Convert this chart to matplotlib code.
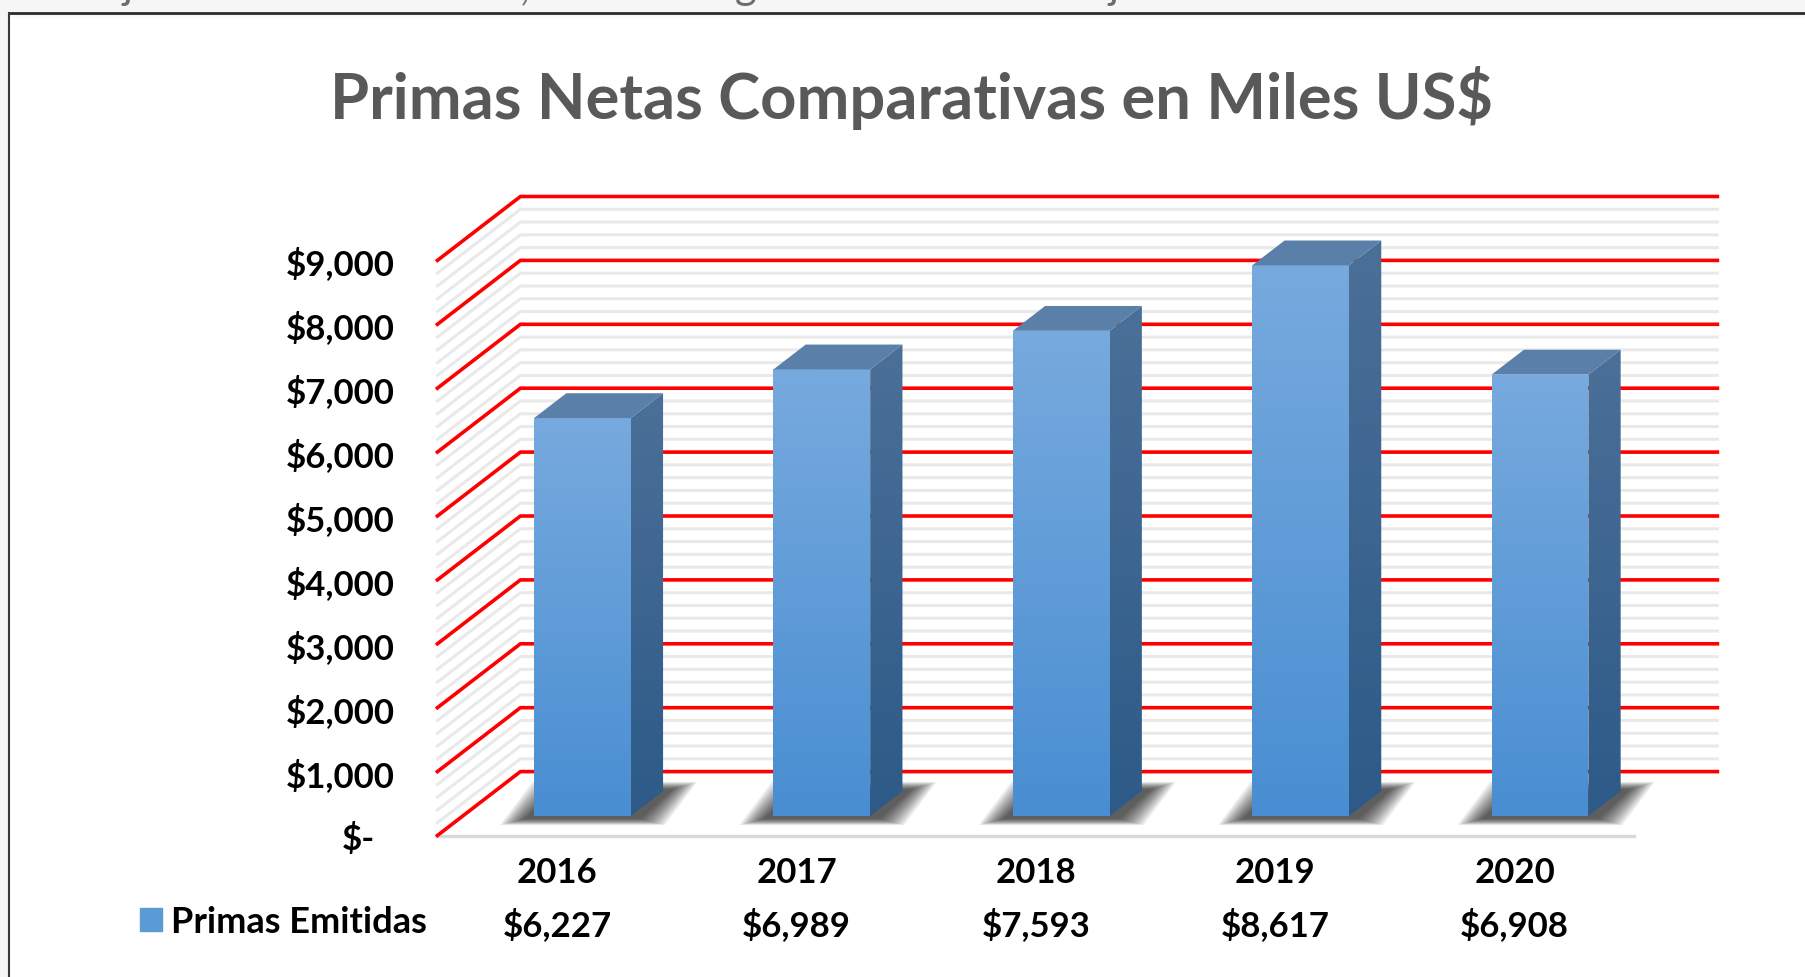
import numpy as np
import matplotlib.pyplot as plt
from matplotlib.patches import Polygon, Patch, Rectangle
from matplotlib.lines import Line2D
from matplotlib.colors import LinearSegmentedColormap

years = ['2016', '2017', '2018', '2019', '2020']
primas_emitidas = [6227, 6989, 7593, 8617, 6908]
y_ticks = [0, 1000, 2000, 3000, 4000, 5000, 6000, 7000, 8000, 9000]
titulo = 'Primas Netas Comparativas en Miles US$'
serie = 'Primas Emitidas'

W, H = 1805, 978
FONT = 'Lato'

# layout of the pseudo 3d box, in pixels from the top-left corner
X0_PX, Y0_PX = 437.4, 836.5   # front-left corner of the floor
SLOT_PX = 239.4               # width of one category
VAL_PX = 0.0639               # pixels per unit of value
DX = 83.0 / SLOT_PX           # depth vector (x part, in categories)
DV = 63.9 / VAL_PX            # depth vector (y part, in value units)
HW = 0.202                    # half bar width
Z0, Z1 = 0.305, 0.694         # bar depth range
VMAX = 9000

def P(x, v, z):
    return (x + DX * z, v + DV * z)

fig = plt.figure(figsize=(W / 100, H / 100), dpi=100)
fig.patch.set_facecolor('#f6f6f6')
fig.add_artist(Rectangle((10 / W, 0), 1, 1 - 15 / H, transform=fig.transFigure,
                         fc='white', ec='none', zorder=-5))
# soft shadow under the top border
for k in range(6):
    fig.add_artist(Rectangle((10 / W, 1 - (15 + k) / H), 1, 1 / H, transform=fig.transFigure,
                             fc='black', alpha=0.05 * (6 - k) / 6, ec='none', zorder=-4))
fig.add_artist(Line2D([9 / W, 1], [1 - 14 / H, 1 - 14 / H], transform=fig.transFigure,
                      color='#2b2b2b', lw=2.0))
fig.add_artist(Line2D([9 / W, 9 / W], [0, 1 - 14 / H], transform=fig.transFigure,
                      color='#3a3a3a', lw=1.5))
# bits of the page text cut off above the chart
for ch, px in [('j', 122), (',', 520), ('g', 735), ('j', 1108)]:
    fig.text(px / W, 1 + 1 / H, ch, fontsize=30, family=FONT, color='#6d6d6d', va='baseline')

ax = fig.add_axes([0, 0, 1, 1])
ax.patch.set_visible(False)

# walls: gridlines every 200, red every 1000
for v in range(0, VMAX + 1, 200):
    pts = [P(-0.5, v, 0), P(-0.5, v, 1), P(4.5, v, 1)]
    xs, ys = zip(*pts)
    if v % 1000 == 0:
        ax.plot(xs, ys, color='#ff0000', lw=2.6, zorder=3, solid_joinstyle='miter')
    else:
        ax.plot(xs, ys, color='#e9e9e9', lw=2.2, zorder=2)

# floor front edge
fx, fy = zip(P(-0.5, 0, 0), P(4.5, 0, 0))
ax.plot(fx, fy, color='#d9d9d9', lw=2.5, zorder=2)


def grad_face(pts, top_c, bot_c, z):
    poly = Polygon(pts, closed=True, fc='none', ec='none', zorder=z)
    ax.add_patch(poly)
    xs = [p[0] for p in pts]
    ys = [p[1] for p in pts]
    cmap = LinearSegmentedColormap.from_list('g', [top_c, bot_c])
    grad = np.linspace(0, 1, 256)[:, None]
    im = ax.imshow(grad, cmap=cmap, extent=(min(xs), max(xs), min(ys), max(ys)),
                   origin='upper', aspect='auto', zorder=z, interpolation='bilinear')
    im.set_clip_path(poly)


for i, val in enumerate(primas_emitidas):
    x0, x1 = i - HW, i + HW
    # blurred shadow on the floor
    fl, fr = P(x0, 0, Z0), P(x1, 0, Z0)
    br, bl = P(x1, 0, Z1), P(x0, 0, Z1)
    for k in range(13):
        e = 24 - 2 * k
        sx = (10 + e) / SLOT_PX
        sf = (3 + 0.25 * e) / VAL_PX
        sb = (2 + 0.3 * e) / VAL_PX
        sh = [(fl[0] - sx, fl[1] - sf), (fr[0] + sx, fr[1] - sf),
              (br[0] + sx, br[1] + sb), (bl[0] - sx, bl[1] + sb)]
        ax.add_patch(Polygon(sh, closed=True, fc='black', ec='none', alpha=0.07, zorder=4))
    front = [P(x0, 0, Z0), P(x1, 0, Z0), P(x1, val, Z0), P(x0, val, Z0)]
    side = [P(x1, 0, Z0), P(x1, 0, Z1), P(x1, val, Z1), P(x1, val, Z0)]
    top = [P(x0, val, Z0), P(x1, val, Z0), P(x1, val, Z1), P(x0, val, Z1)]
    grad_face(front, '#77aade', '#498ed2', 6)
    grad_face(side, '#4b7098', '#2d5a88', 6)
    ax.add_patch(Polygon(top, closed=True, fc='#5a7fa8', ec='none', zorder=6))

ax.set_xlim(-0.5 - X0_PX / SLOT_PX, -0.5 + (W - X0_PX) / SLOT_PX)
ax.set_ylim(-(H - Y0_PX) / VAL_PX, Y0_PX / VAL_PX)

for s in ax.spines.values():
    s.set_visible(False)
ax.spines['left'].set_position(('data', -0.5))
ax.spines['bottom'].set_position(('data', 0))
ax.set_yticks(y_ticks[1:], ['${:,}'.format(t) for t in y_ticks[1:]])
ax.set_xticks(range(len(years)), years)
ax.tick_params(axis='y', length=0, pad=31.0, labelsize=25)
ax.tick_params(axis='x', length=0, pad=14.5, labelsize=25)
for lab in ax.get_xticklabels() + ax.get_yticklabels():
    lab.set_family(FONT)
    lab.set_weight('bold')
ax.annotate('$-', xy=(-0.5, 0), xytext=(-45, 0), textcoords='offset points',
            ha='right', va='center_baseline', fontsize=25, family=FONT, weight='bold')

# table row under the categories
row_v = (Y0_PX - 936.0) / VAL_PX
for i, val in enumerate(primas_emitidas):
    ax.text(i, row_v, '${:,}'.format(val), ha='center', va='baseline',
            fontsize=25, family=FONT, weight='bold')
ax.legend(handles=[Patch(color='#5b9bd5', label=serie)], loc='center left',
          bbox_to_anchor=(140 / W, 1 - 923 / H), bbox_transform=fig.transFigure,
          frameon=False, borderpad=0, borderaxespad=0, handlelength=0.6,
          handleheight=0.6, handletextpad=0.27,
          prop={'family': FONT, 'weight': 'bold', 'size': 26})

fig.text(911 / W, 1 - 118.5 / H, titulo, ha='center', va='baseline', fontsize=45.5,
         family=FONT, weight='bold', color='#595959')

fig.savefig('out.png', dpi=100)
